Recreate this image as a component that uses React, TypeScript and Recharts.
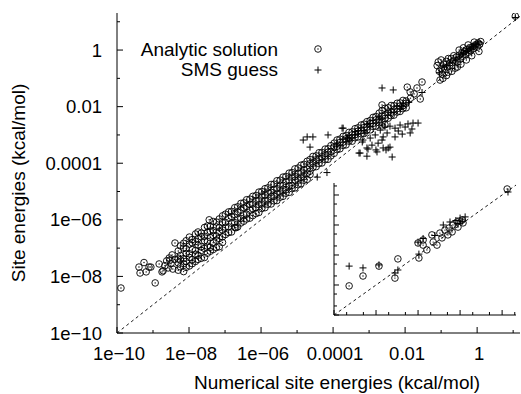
import React from 'react';
import { ScatterChart, Scatter, XAxis, YAxis, ReferenceLine } from 'recharts';

type Pt = [number, number];
type Row = [number, number[]];

// every value below is log10

// scattered circles that sit away from the main band
const analyticStrayLog: Pt[] = [
  [-9.89, -8.41], [-9.39, -7.67], [-9.36, -7.88], [-9.25, -7.51], [-9.19, -7.84], [-9.11, -7.67], [-9.06, -7.67],
  [-8.94, -8.23], [-8.83, -7.56], [-8.75, -7.84], [-8.72, -7.8], [-8.67, -7.62], [-8.62, -7.45], [-8.58, -7.7],
  [-8.55, -7.35], [-8.53, -7.42], [-8.5, -7.55], [-8.47, -7.24], [-8.45, -7.74], [-8.4, -7.4], [-8.39, -6.82],
  [-7.44, -6.0], [-6.7, -6.28], [-2.64, -1.94], [-1.94, -1.31], [-1.86, -1.48], [-1.85, -1.7], [-1.75, -1.55],
  [-1.67, -1.34], [-1.58, -1.73], [-1.53, -1.13],
];

// the dense band: [log10 x, several log10 y at that x]
const analyticBandLog: Row[] = [
  [-8.3, [-7.1, -7.38, -7.52, -7.78]],
  [-8.24, [-6.92, -7.26, -7.41, -7.66]],
  [-8.15, [-6.83, -7.0, -7.37, -7.55, -7.83]],
  [-8.08, [-6.74, -7.02, -7.19, -7.47, -7.68]],
  [-7.99, [-6.61, -6.86, -7.2, -7.33, -7.63]],
  [-7.91, [-6.7, -6.81, -7.05, -7.41, -7.55]],
  [-7.82, [-6.5, -6.77, -7.08, -7.22, -7.47]],
  [-7.75, [-6.43, -6.66, -6.9, -7.25, -7.4]],
  [-7.66, [-6.47, -6.6, -6.95, -7.08, -7.36]],
  [-7.57, [-6.27, -6.58, -6.74, -7.01, -7.33]],
  [-7.49, [-6.22, -6.44, -6.76, -6.93, -7.18]],
  [-7.41, [-6.23, -6.4, -6.63, -6.97, -7.11]],
  [-7.33, [-6.06, -6.38, -6.55, -6.81, -7.05]],
  [-7.24, [-6.08, -6.25, -6.57, -6.72, -6.98]],
  [-7.16, [-5.97, -6.27, -6.41, -6.66, -6.95]],
  [-7.07, [-5.86, -6.1, -6.36, -6.6, -6.8]],
  [-6.99, [-5.8, -6.09, -6.26, -6.52]],
  [-6.9, [-5.72, -5.95, -6.25, -6.45]],
  [-6.82, [-5.7, -5.88, -6.12, -6.43]],
  [-6.73, [-5.57, -5.82, -6.1, -6.27]],
  [-6.65, [-5.54, -5.71, -5.97, -6.25]],
  [-6.56, [-5.42, -5.66, -5.95, -6.11]],
  [-6.48, [-5.4, -5.57, -5.82, -6.05]],
  [-6.4, [-5.29, -5.53, -5.8, -5.97]],
  [-6.31, [-5.27, -5.45, -5.66, -5.94]],
  [-6.23, [-5.17, -5.44, -5.61, -5.85]],
  [-6.14, [-5.14, -5.31, -5.57, -5.78]],
  [-6.06, [-5.02, -5.3, -5.46, -5.74]],
  [-5.98, [-5.0, -5.16, -5.44, -5.6]],
  [-5.89, [-4.9, -5.14, -5.31, -5.57]],
  [-5.81, [-4.87, -5.02, -5.3, -5.45]],
  [-5.72, [-4.75, -5.03, -5.18, -5.44]],
  [-5.64, [-4.74, -4.92, -5.17, -5.33]],
  [-5.56, [-4.62, -4.9, -5.06, -5.32]],
  [-5.47, [-4.6, -4.77, -5.05, -5.2]],
  [-5.39, [-4.49, -4.78, -4.92, -5.17]],
  [-5.31, [-4.47, -4.64, -4.93, -5.06]],
  [-5.22, [-4.35, -4.62, -4.79, -5.03]],
  [-5.14, [-4.33, -4.49, -4.78, -4.9]],
  [-5.06, [-4.2, -4.47, -4.61, -4.87]],
  [-4.97, [-4.17, -4.35, -4.6, -4.76]],
  [-4.89, [-4.07, -4.34, -4.49, -4.72]],
  [-4.81, [-4.04, -4.22, -4.47, -4.6]],
  [-4.72, [-3.93, -4.2, -4.35, -4.57]],
  [-4.64, [-3.87, -4.02, -4.28, -4.4]],
  [-4.56, [-3.76, -4.0, -4.15]],
  [-4.47, [-3.74, -3.88, -4.12]],
  [-4.39, [-3.63, -3.87, -4.01]],
  [-4.31, [-3.62, -3.77, -3.99]],
  [-4.22, [-3.5, -3.74, -3.87]],
  [-4.14, [-3.49, -3.61, -3.86]],
  [-4.06, [-3.38, -3.59, -3.74]],
  [-3.97, [-3.29, -3.42, -3.65]],
  [-3.89, [-3.18, -3.4, -3.52]],
  [-3.81, [-3.15, -3.27, -3.49]],
  [-3.72, [-3.05, -3.25, -3.37]],
  [-3.64, [-3.02, -3.14, -3.35]],
  [-3.56, [-2.91, -3.12, -3.22]],
  [-3.47, [-2.89, -3.0, -3.22]],
  [-3.39, [-2.78, -2.99, -3.1]],
  [-3.31, [-2.75, -2.87, -3.07]],
  [-3.22, [-2.65, -2.85, -2.96]],
  [-3.14, [-2.62, -2.74, -2.95]],
  [-3.06, [-2.53, -2.72, -2.83]],
  [-2.97, [-2.49, -2.6, -2.82]],
  [-2.89, [-2.38, -2.59, -2.7]],
  [-2.81, [-2.35, -2.47, -2.69]],
  [-2.72, [-2.23, -2.45, -2.57]],
  [-2.64, [-2.14, -2.33, -2.55, -2.68]],
  [-2.56, [-2.06, -2.3, -2.42, -2.64]],
  [-2.47, [-2.04, -2.19, -2.41]],
  [-2.39, [-1.96, -2.2, -2.32]],
  [-2.31, [-1.97, -2.1, -2.3]],
  [-2.22, [-1.88, -2.07, -2.19]],
  [-2.14, [-1.87, -1.98, -2.17]],
  [-2.06, [-1.78, -1.97, -2.07]],
  [-1.97, [-1.8, -1.88, -2.04]],
];

// cluster near 1 kcal/mol and the top right point
const analyticHighLog: Pt[] = [
  [-1.11, -0.55], [-1.08, -0.42], [-1.03, -1.06], [-1.05, -0.75], [-1.0, -0.65], [-0.97, -0.85], [-0.93, -0.5],
  [-0.9, -0.68], [-0.86, -0.4], [-0.83, -0.6], [-0.8, -0.78], [-0.76, -0.45], [-0.72, -0.3], [-0.7, -0.55],
  [-0.66, -0.38], [-0.61, -0.64], [-0.58, -0.25], [-0.55, -0.42], [-0.5, -0.18], [-0.47, -0.32], [-0.42, -0.1],
  [-0.4, -0.22], [-0.35, -0.05], [-0.32, -0.15], [-0.28, 0.02], [-0.25, -0.08], [-0.2, 0.08], [-0.18, -0.02],
  [-0.12, 0.12], [-0.1, 0.05], [-0.05, 0.18], [0.0, 0.1], [0.03, 0.25], [0.07, 0.2],
  [-1.0, -0.35], [-0.95, -1.0], [-0.85, -0.9], [-0.8, -0.3], [-0.7, -0.75], [-0.65, -0.2], [-0.55, -0.6],
  [-0.5, 0.0], [-0.45, -0.5], [-0.38, 0.08], [-0.3, -0.35], [-0.25, 0.18], [-0.15, -0.2], [-0.08, 0.28],
  [0.05, -0.05], [0.1, 0.3], [1.06, 1.2],
];

const smsGuessLog: Pt[] = [
  [-4.83, -3.18], [-4.72, -3.07], [-4.56, -3.07], [-4.64, -3.43], [-4.14, -3.0], [-3.75, -2.76], [-4.44, -4.49],
  [-4.17, -4.33], [-2.64, -1.34], [-2.33, -1.41], [-3.28, -3.64], [-3.06, -3.46], [-2.78, -3.6], [-2.36, -3.78],
  [-2.42, -3.43], [-1.78, -2.58], [-1.64, -2.58], [-1.53, -1.5],
  [-2.69, -2.83], [-2.56, -2.72], [-2.42, -2.69], [-2.28, -2.76], [-2.14, -2.65], [-2.0, -2.72], [-1.92, -2.61],
  [-2.19, -2.86], [-2.5, -2.93], [-2.83, -3.0], [-2.97, -3.11], [-3.11, -2.93], [-3.39, -3.0], [-3.53, -3.18],
  [-3.19, -3.25], [-2.92, -3.36], [-2.64, -3.18], [-2.75, -3.29], [-3.06, -3.75], [-2.61, -3.46], [-2.53, -3.53],
  [-2.28, -3.07], [-2.08, -2.97], [-1.81, -2.79], [-1.86, -2.93], [-3.72, -2.76], [-3.25, -3.64], [-3.03, -3.5],
  [-2.81, -3.53], [-2.47, -3.46], [-2.61, -3.07], [-3.17, -3.18],
  [-3.9, -3.35], [-3.6, -3.1], [-3.3, -2.85], [-3.0, -2.6], [-2.7, -2.4], [-2.4, -2.2], [-2.1, -2.0], [-1.9, -1.85],
  [-1.05, -0.8], [-0.95, -0.6], [-0.85, -0.55], [-0.75, -0.45], [-0.6, -0.35], [-0.5, -0.25], [-0.45, -0.15],
  [-0.38, -0.1], [-0.3, -0.05], [-0.25, 0.0], [-0.2, 0.05], [-0.15, 0.1], [-0.1, 0.12], [-0.05, 0.2], [0.0, 0.22],
  [0.05, 0.28], [1.06, 1.15],
];

const insetAnalyticLog: Pt[] = [
  [-2.64, -2.03], [-2.31, -1.7], [-1.93, -1.37], [-1.48, -1.13], [-1.55, -1.77], [-0.98, -1.1], [-1.0, -0.6],
  [-0.88, -0.5], [-0.79, -0.83], [-0.64, -0.57], [-0.67, -0.33], [-0.48, -0.27], [-0.36, -0.17], [-0.26, -0.1],
  [-0.17, 0.0], [-0.07, 0.1], [0.05, 0.17], [-0.88, -0.67], [-0.55, -0.67], [-0.43, -0.43], [-0.29, -0.33],
  [-0.19, -0.23], [-0.05, -0.07], [0.07, 0.07], [1.12, 1.2],
];

const insetGuessLog: Pt[] = [
  [-2.64, -1.37], [-2.31, -1.43], [-1.93, -1.33], [-1.55, -1.6], [-1.48, -1.5], [-0.98, -0.97], [-1.0, -0.57],
  [-0.88, -0.45], [-0.6, -0.35], [-0.4, 0.0], [-0.24, 0.1], [-0.1, 0.15], [-0.05, 0.05], [0.0, 0.23], [0.05, 0.12],
  [0.12, 0.27], [1.14, 1.1],
];

const mainTicks = [1e-10, 1e-9, 1e-8, 1e-7, 1e-6, 1e-5, 1e-4, 1e-3, 1e-2, 1e-1, 1, 10];
const mainTickLabels: Record<number, string> = {
  [-10]: '1e\u221210',
  [-8]: '1e\u221208',
  [-6]: '1e\u221206',
  [-4]: '0.0001',
  [-2]: '0.01',
  [0]: '1',
};
const insetTicks = [0.001, 0.002, 0.005, 0.01, 0.02, 0.05, 0.1, 0.2, 0.5, 1, 2, 5, 10, 20];

const xTitle = 'Numerical site energies (kcal/mol)';
const yTitle = 'Site energies (kcal/mol)';
const seriesNames = ['Analytic solution', 'SMS guess'];

const toPoints = (arr: Pt[]) => arr.map(([ex, ey]) => ({ x: Math.pow(10, ex), y: Math.pow(10, ey) }));
const bandPts: Pt[] = analyticBandLog.flatMap(([ex, ys]) => ys.map((ey) => [ex, ey] as Pt));

const analyticData = toPoints([...analyticStrayLog, ...bandPts, ...analyticHighLog]);
const guessData = toPoints(smsGuessLog);
const insetAnalyticData = toPoints(insetAnalyticLog);
const insetGuessData = toPoints(insetGuessLog);

const FONT = '"Liberation Sans", Arial, Helvetica, sans-serif';
const MAIN_X_MAX = 15.5;
const MAIN_Y_MAX = 20.4;
const INSET_X = [0.001, 21.4];
const INSET_Y = [0.001, 25.1];

const CircleDot = ({ cx, cy }: any) => (
  <g>
    <circle cx={cx} cy={cy} r={3.3} fill="none" stroke="#000" strokeWidth={0.9} />
    <circle cx={cx} cy={cy} r={0.7} fill="#000" />
  </g>
);

const Plus = ({ cx, cy }: any) => (
  <path d={`M${cx - 3.5},${cy}h7M${cx},${cy - 3.5}v7`} stroke="#000" strokeWidth={1} fill="none" />
);

const MainXTick = ({ x, y, payload }: any) => {
  const e = Math.round(Math.log10(payload.value));
  const major = e % 2 === 0;
  return (
    <g>
      <line x1={x} x2={x} y1={y} y2={y - (major ? 6 : 3)} stroke="#000" />
      {major && (
        <text x={x + 2} y={y + 27} textAnchor="middle" fontSize={18.5} fontFamily={FONT} fill="#000">
          {mainTickLabels[e]}
        </text>
      )}
    </g>
  );
};

const MainYTick = ({ x, y, payload }: any) => {
  const e = Math.round(Math.log10(payload.value));
  const major = e % 2 === 0;
  return (
    <g>
      <line x1={x} x2={x + (major ? 6 : 3)} y1={y} y2={y} stroke="#000" />
      {major && (
        <text x={x - 15} y={y + 6.5} textAnchor="end" fontSize={18.5} fontFamily={FONT} fill="#000">
          {mainTickLabels[e]}
        </text>
      )}
    </g>
  );
};

const isMajor = (v: number) => Math.abs(Math.log10(v) - Math.round(Math.log10(v))) < 0.01;

const InsetXTick = ({ x, y, payload }: any) => (
  <line x1={x} x2={x} y1={y} y2={y - (isMajor(payload.value) ? 5 : 3)} stroke="#000" />
);

const InsetYTick = ({ x, y, payload }: any) => (
  <line x1={x} x2={x + (isMajor(payload.value) ? 5 : 3)} y1={y} y2={y} stroke="#000" />
);

export default function App() {
  return (
    <div style={{ position: 'absolute', left: 0, top: 0, width: 521, height: 394, background: '#fff' }}>
      <ScatterChart width={521} height={394} margin={{ top: 13, right: 1, bottom: 0, left: 0 }}>
        <XAxis
          type="number"
          dataKey="x"
          scale="log"
          domain={[1e-10, MAIN_X_MAX]}
          allowDataOverflow
          ticks={mainTicks}
          interval={0}
          height={61}
          tickLine={false}
          tickSize={0}
          tickMargin={0}
          tick={(p: any) => <MainXTick {...p} />}
          axisLine={{ stroke: '#000' }}
        />
        <YAxis
          type="number"
          dataKey="y"
          scale="log"
          domain={[1e-10, MAIN_Y_MAX]}
          allowDataOverflow
          ticks={mainTicks}
          interval={0}
          width={117}
          tickLine={false}
          tickSize={0}
          tickMargin={0}
          tick={(p: any) => <MainYTick {...p} />}
          axisLine={{ stroke: '#000' }}
        />
        <ReferenceLine
          segment={[{ x: 1e-10, y: 1e-10 }, { x: MAIN_X_MAX, y: MAIN_X_MAX }]}
          stroke="#000"
          strokeWidth={0.9}
          strokeDasharray="3 3"
        />
        <Scatter name={seriesNames[0]} data={analyticData} shape={CircleDot} isAnimationActive={false} />
        <Scatter name={seriesNames[1]} data={guessData} shape={Plus} isAnimationActive={false} />
      </ScatterChart>

      <div style={{ position: 'absolute', left: 324, top: 173 }}>
        <ScatterChart width={197} height={152} margin={{ top: 10, right: 5, bottom: 0, left: 0 }}>
          <XAxis
            type="number"
            dataKey="x"
            scale="log"
            domain={INSET_X}
            allowDataOverflow
            ticks={insetTicks}
            interval={0}
            height={10}
            tickLine={false}
            tickSize={0}
            tickMargin={0}
            tick={(p: any) => <InsetXTick {...p} />}
            axisLine={{ stroke: '#000' }}
          />
          <YAxis
            type="number"
            dataKey="y"
            scale="log"
            domain={INSET_Y}
            allowDataOverflow
            ticks={insetTicks}
            interval={0}
            width={10}
            tickLine={false}
            tickSize={0}
            tickMargin={0}
            tick={(p: any) => <InsetYTick {...p} />}
            axisLine={{ stroke: '#000' }}
          />
          <ReferenceLine
            segment={[{ x: 0.001, y: 0.001 }, { x: 21.4, y: 21.4 }]}
            stroke="#000"
            strokeWidth={0.9}
            strokeDasharray="3 3"
          />
          <Scatter data={insetAnalyticData} shape={CircleDot} isAnimationActive={false} />
          <Scatter data={insetGuessData} shape={Plus} isAnimationActive={false} />
        </ScatterChart>
      </div>

      <svg
        width={521}
        height={394}
        style={{ position: 'absolute', left: 0, top: 0, pointerEvents: 'none' }}
      >
        <g fontFamily={FONT} fontSize={19} fill="#000">
          <text x={278} y={56} textAnchor="end">{seriesNames[0]}</text>
          <text x={278} y={76} textAnchor="end">{seriesNames[1]}</text>
          <text x={337} y={389} textAnchor="middle">{xTitle}</text>
          <text x={25} y={183} textAnchor="middle" transform="rotate(-90 25 183)">{yTitle}</text>
        </g>
        <CircleDot cx={318} cy={49} />
        <Plus cx={318} cy={70} />
      </svg>
    </div>
  );
}
